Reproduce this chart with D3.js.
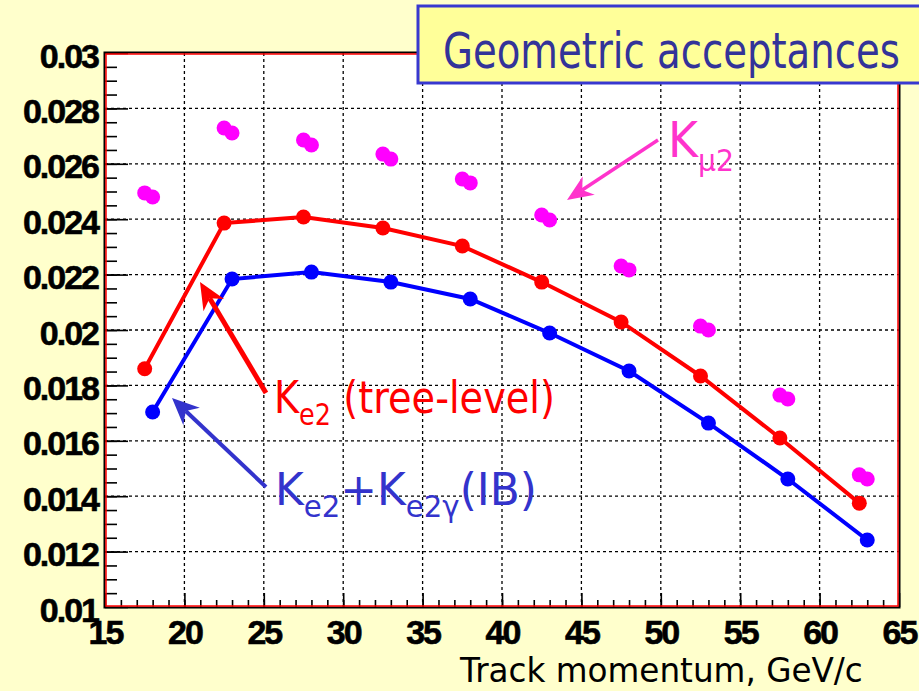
<!DOCTYPE html>
<html>
<head>
<meta charset="utf-8">
<script src="https://cdn.jsdelivr.net/npm/d3@7"></script>
<style>
  body { margin: 0; background: #ffffcc; }
  svg { display: block; }
</style>
</head>
<body>
<div class="chart"></div>
<script>
// momentum bins (GeV/c), two slightly shifted sets of points
const momentumA = [17.5, 22.5, 27.5, 32.5, 37.5, 42.5, 47.5, 52.5, 57.5, 62.5]
const momentumB = [18, 23, 28, 33, 38, 43, 48, 53, 58, 63]

// acceptances
const ke2Tree = [0.0186, 0.02386, 0.02408, 0.02368, 0.02303, 0.02173, 0.02029, 0.01834, 0.0161, 0.01375]
const ke2IB   = [0.01704, 0.02184, 0.02209, 0.02173, 0.02112, 0.01989, 0.01852, 0.01664, 0.01462, 0.01242]
const kmu2A   = [0.02495, 0.02729, 0.02686, 0.02635, 0.02545, 0.02415, 0.02231, 0.02014, 0.01765, 0.01477]
const kmu2B   = [0.0248, 0.02711, 0.02668, 0.02617, 0.02531, 0.02397, 0.02217, 0.02, 0.01751, 0.01462]

// ticks
const xTicks = [15, 20, 25, 30, 35, 40, 45, 50, 55, 60, 65]
const yTicks = [0.01, 0.012, 0.014, 0.016, 0.018, 0.02, 0.022, 0.024, 0.026, 0.028, 0.03]
const yTickLabels = ['0.01', '0.012', '0.014', '0.016', '0.018', '0.02', '0.022', '0.024', '0.026', '0.028', '0.03']

const W = 919, H = 691

const svg = d3.select('.chart')
    .append('svg')
    .attr('width', W)
    .attr('height', H)

svg.append('rect').attr('width', W).attr('height', H).attr('fill', '#ffffcc')

const x = d3.scaleLinear().domain([15, 65]).range([105, 899])
const y = d3.scaleLinear().domain([0.01, 0.03]).range([607, 53])

// plot area
svg.append('rect')
    .attr('x', x(15)).attr('y', y(0.03))
    .attr('width', x(65) - x(15)).attr('height', y(0.01) - y(0.03))
    .attr('fill', '#fff')

// dashed grid
const grid = svg.append('g')
    .attr('stroke', '#000')
    .attr('stroke-width', 1.3)
    .attr('stroke-dasharray', '3,3')

grid.selectAll('line.v')
    .data(xTicks.slice(1, -1))
    .enter()
    .append('line')
        .attr('x1', d => x(d)).attr('x2', d => x(d))
        .attr('y1', y(0.03)).attr('y2', y(0.01))

grid.selectAll('line.h')
    .data(yTicks.slice(1, -1))
    .enter()
    .append('line')
        .attr('y1', d => y(d)).attr('y2', d => y(d))
        .attr('x1', x(15)).attr('x2', x(65))

// tick marks (inward)
const tickStyle = g => {
    g.select('.domain').remove()
    g.selectAll('line').attr('stroke', '#000').attr('stroke-width', 1.6)
}
const yMinor = d3.range(0.0105, 0.03, 0.0005)
const xMinor = d3.range(16, 65, 1)

svg.append('g')
    .attr('transform', `translate(${x(15)},0)`)
    .call(d3.axisRight(y).tickValues(yMinor).tickSize(12).tickFormat(''))
    .call(tickStyle)

svg.append('g')
    .attr('transform', `translate(${x(15)},0)`)
    .call(d3.axisRight(y).tickValues(yTicks).tickSize(23).tickFormat(''))
    .call(tickStyle)

svg.append('g')
    .attr('transform', `translate(0,${y(0.01)})`)
    .call(d3.axisTop(x).tickValues(xMinor).tickSize(7).tickFormat(''))
    .call(tickStyle)

svg.append('g')
    .attr('transform', `translate(0,${y(0.01)})`)
    .call(d3.axisTop(x).tickValues(xTicks).tickSize(14).tickFormat(''))
    .call(tickStyle)

// frame: black outside, red inside
svg.append('rect')
    .attr('x', x(15) - 0.5).attr('y', y(0.03) - 0.5)
    .attr('width', x(65) - x(15) + 1).attr('height', y(0.01) - y(0.03) + 1)
    .attr('fill', 'none').attr('stroke', '#000').attr('stroke-width', 2)
svg.append('rect')
    .attr('x', x(15) + 1).attr('y', y(0.03) + 1)
    .attr('width', x(65) - x(15) - 2).attr('height', y(0.01) - y(0.03) - 2)
    .attr('fill', 'none').attr('stroke', '#ff0000').attr('stroke-width', 1.5)

// tick labels
const labelFont = t => t
    .attr('fill', '#000')
    .attr('stroke', '#000')
    .attr('stroke-width', 0.6)
    .style('font-family', '"Liberation Sans", Arial, Helvetica, sans-serif')
    .style('font-weight', 'bold')
    .style('font-size', '34px')
    .style('letter-spacing', '-2px')

svg.append('g')
    .attr('transform', `translate(${x(15)},0)`)
    .call(d3.axisLeft(y).tickValues(yTicks).tickSize(0).tickPadding(7)
        .tickFormat((d, i) => yTickLabels[i]))
    .call(g => g.select('.domain').remove())
    .selectAll('text')
        .attr('dy', 14)
        .call(labelFont)

svg.append('g')
    .attr('transform', `translate(0,${y(0.01)})`)
    .call(d3.axisBottom(x).tickValues(xTicks).tickSize(0).tickFormat(d3.format('d')))
    .call(g => g.select('.domain').remove())
    .selectAll('text')
        .attr('y', 37)
        .attr('dy', null)
        .call(labelFont)

// series
const line = xs => d3.line().x((d, i) => x(xs[i])).y(d => y(d))

svg.append('path')
    .datum(ke2Tree)
    .attr('d', line(momentumA))
    .attr('fill', 'none').attr('stroke', '#ff0000').attr('stroke-width', 4)

svg.append('path')
    .datum(ke2IB)
    .attr('d', line(momentumB))
    .attr('fill', 'none').attr('stroke', '#0000ff').attr('stroke-width', 4)

const dots = (data, xs, color, cls) => {
    svg.selectAll('circle.' + cls)
        .data(data)
        .enter()
        .append('circle')
            .attr('class', cls)
            .attr('cx', (d, i) => x(xs[i]))
            .attr('cy', d => y(d))
            .attr('r', 7.5)
            .attr('fill', color)
}
dots(ke2Tree, momentumA, '#ff0000', 'tree')
dots(ke2IB, momentumB, '#0000ff', 'ib')
dots(kmu2A, momentumA, '#ff00ff', 'mua')
dots(kmu2B, momentumB, '#ff00ff', 'mub')

// title box
svg.append('rect')
    .attr('x', 418).attr('y', 6)
    .attr('width', 520).attr('height', 77)
    .attr('fill', '#ffff99')
    .attr('stroke', '#3838d0').attr('stroke-width', 3)

// text helper: parts with optional subscripts, squeezed to a given width
const label = (parts, x0, y0, width, color, size, subSize, shift) => {
    const t = svg.append('text')
        .attr('fill', color)
        .style('font-family', '"DejaVu Sans", Verdana, sans-serif')
        .style('font-size', size + 'px')
        .style('white-space', 'pre')
    let down = false
    parts.forEach(p => {
        const s = t.append('tspan').text(p.text)
        if (p.sub) {
            s.style('font-size', subSize + 'px')
            if (!down) s.attr('dy', shift)
            down = true
        } else if (down) {
            s.attr('dy', -shift)
            down = false
        }
    })
    const w = t.node().getBBox().width
    t.attr('transform', `translate(${x0},${y0}) scale(${width / w},1)`)
    return t
}

label([{ text: 'Geometric acceptances' }], 443, 68, 457, '#333399', 50, 0, 0)
label([{ text: 'Track momentum, GeV/c' }], 460, 682, 404, '#000', 33, 0, 0)

label([{ text: 'K' }, { text: 'μ2', sub: true }], 668, 157, 66, '#ff33cc', 50, 31, 14)
label([{ text: 'K' }, { text: 'e2', sub: true }, { text: ' (tree-level)' }],
    274, 413, 281, '#ff0000', 45, 30, 12)
label([{ text: 'K' }, { text: 'e2', sub: true }, { text: '+K' }, { text: 'e2γ', sub: true }, { text: '(IB)' }],
    275, 505, 262, '#3333cc', 45, 30, 12)

// arrows
const arrow = (x1, y1, x2, y2, color, lw, hl, hw) => {
    const len = Math.hypot(x2 - x1, y2 - y1)
    const ux = (x2 - x1) / len, uy = (y2 - y1) / len
    const px = -uy, py = ux
    const bx = x2 - ux * hl, by = y2 - uy * hl
    const nx = x2 - ux * hl * 0.7, ny = y2 - uy * hl * 0.7
    svg.append('line')
        .attr('x1', x1).attr('y1', y1).attr('x2', nx).attr('y2', ny)
        .attr('stroke', color).attr('stroke-width', lw)
    svg.append('path')
        .attr('d', `M${x2},${y2}L${bx + px * hw},${by + py * hw}L${nx},${ny}L${bx - px * hw},${by - py * hw}Z`)
        .attr('fill', color)
}
arrow(266, 393, 200, 282, '#ff0000', 5, 27, 12)
arrow(266, 487, 172, 398, '#3333cc', 4, 27, 12)
arrow(658, 140, 567, 200, '#ff33cc', 3.5, 26, 11)
</script>
</body>
</html>
